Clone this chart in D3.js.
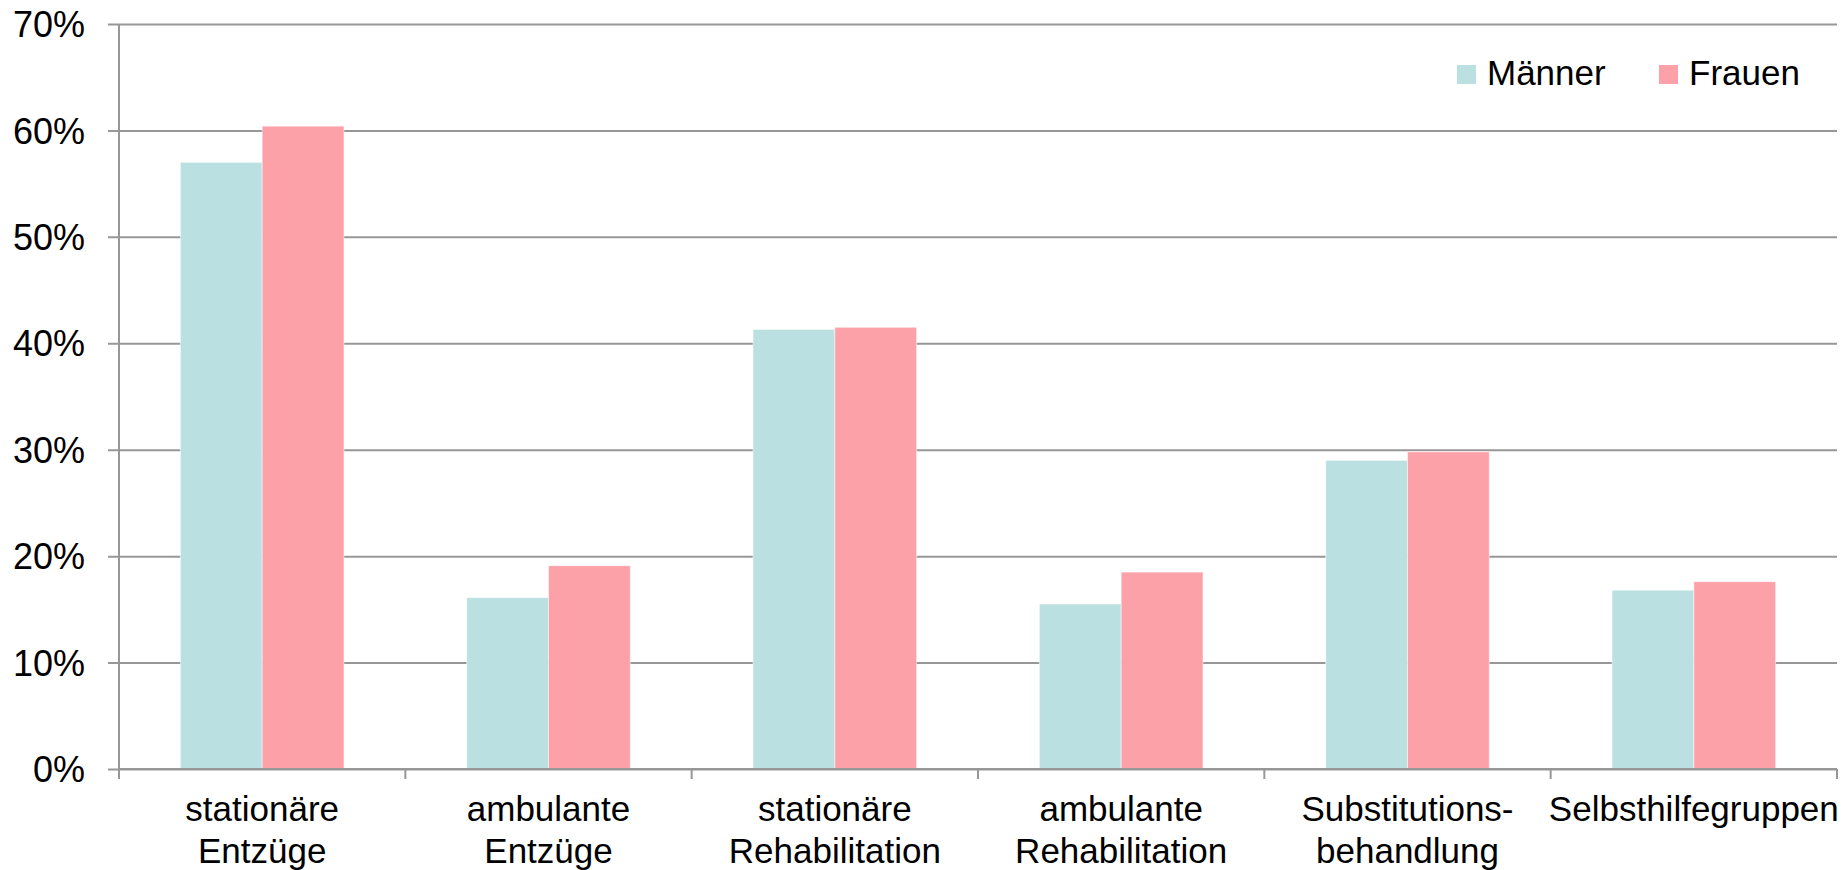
<!DOCTYPE html>
<html>
<head>
<meta charset="utf-8">
<script src="https://cdn.jsdelivr.net/npm/d3@7"></script>
<style>
  html, body { margin: 0; padding: 0; background: #fff; }
  svg { display: block; font-family: "Liberation Sans", Arial, sans-serif; }
</style>
</head>
<body>
<svg id="chart" width="1847" height="870"></svg>
<script>
const categories = [
  ["stationäre", "Entzüge"],
  ["ambulante", "Entzüge"],
  ["stationäre", "Rehabilitation"],
  ["ambulante", "Rehabilitation"],
  ["Substitutions-", "behandlung"],
  ["Selbsthilfegruppen"]
];
const seriesNames = ["Männer", "Frauen"];
const maenner = [57.0, 16.1, 41.3, 15.5, 29.0, 16.8];
const frauen  = [60.4, 19.1, 41.5, 18.5, 29.8, 17.6];
const yTicks = [0, 10, 20, 30, 40, 50, 60, 70];
const colors = ["#BAE0E2", "#FDA1A9"];

const svg = d3.select("#chart");
const margin = { left: 119, right: 10, top: 24, bottom: 101 };
const W = 1847, H = 870;
const x0 = margin.left, x1 = W - margin.right;
const yTop = margin.top, yBot = H - margin.bottom;

const keys = categories.map((c, i) => i);
const x = d3.scaleBand().domain(keys).range([x0, x1]).paddingInner(0).paddingOuter(0);
const groupFrac = 2 / 3.5;
const xs = d3.scaleBand().domain([0, 1])
  .range([0, x.bandwidth() * groupFrac]).padding(0);
const y = d3.scaleLinear().domain([0, 70]).range([yBot, yTop]);

const gridColor = "#979797";

// gridlines with left ticks
const yAxis = d3.axisLeft(y).tickValues(yTicks).tickFormat(d => d + "%")
  .tickSize(-(x1 - x0)).tickPadding(34);
const gy = svg.append("g").attr("transform", `translate(${x0},0)`).call(yAxis);
gy.select(".domain").remove();
gy.selectAll(".tick line").attr("stroke", gridColor).attr("stroke-width", 2).attr("x1", -11);
gy.selectAll(".tick text").attr("font-size", 36).attr("fill", "#000")
  .attr("font-family", "Liberation Sans, Arial, sans-serif").attr("dy", "0.35em");

// bars
const data = [maenner, frauen];
const groups = svg.append("g");
data.forEach((vals, si) => {
  groups.selectAll(".bar" + si).data(vals).enter().append("rect")
    .attr("x", (d, i) => x(i) + (x.bandwidth() - xs.range()[1]) / 2 + xs(si))
    .attr("width", xs.bandwidth())
    .attr("y", d => y(d))
    .attr("height", d => yBot - y(d))
    .attr("fill", colors[si])
    .attr("stroke", "rgba(255,255,255,0.5)")
    .attr("stroke-width", 1);
});

// y axis line
svg.append("line").attr("x1", x0).attr("x2", x0).attr("y1", yTop).attr("y2", yBot)
  .attr("stroke", gridColor).attr("stroke-width", 2);

// x axis
const boundaries = d3.range(categories.length + 1).map(i => i === categories.length ? x1 : x(i));
svg.append("line").attr("x1", x0).attr("x2", x1).attr("y1", yBot).attr("y2", yBot)
  .attr("stroke", gridColor).attr("stroke-width", 2);
svg.append("g").selectAll("line").data(boundaries).enter().append("line")
  .attr("x1", d => d).attr("x2", d => d).attr("y1", yBot).attr("y2", yBot + 10)
  .attr("stroke", gridColor).attr("stroke-width", 2);

// category labels
const lab = svg.append("g");
categories.forEach((lines, i) => {
  const t = lab.append("text")
    .attr("x", x(i) + x.bandwidth() / 2)
    .attr("text-anchor", "middle")
    .attr("font-size", 35).attr("fill", "#000");
  lines.forEach((ln, j) => {
    t.append("tspan").attr("x", x(i) + x.bandwidth() / 2).attr("y", 821 + j * 42).text(ln);
  });
});

// legend
const legendX = [1457, 1659];
seriesNames.forEach((name, i) => {
  svg.append("rect").attr("x", legendX[i]).attr("y", 65).attr("width", 19).attr("height", 19)
    .attr("fill", colors[i]);
  svg.append("text").attr("x", legendX[i] + 30).attr("y", 85)
    .attr("font-size", 35).attr("fill", "#000").text(name);
});
</script>
</body>
</html>
